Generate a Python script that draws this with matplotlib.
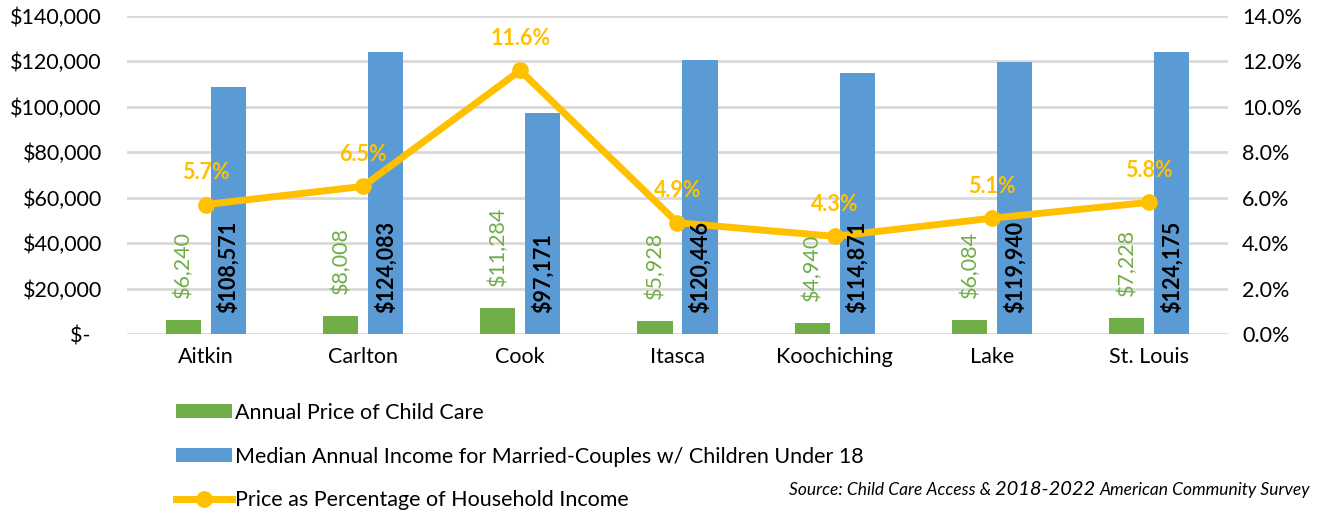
import numpy as np
import matplotlib.pyplot as plt
from matplotlib.ticker import FuncFormatter, MultipleLocator

plt.rcParams['font.family'] = ['Lato', 'DejaVu Sans']

# data
counties = ["Aitkin", "Carlton", "Cook", "Itasca", "Koochiching", "Lake", "St. Louis"]
price = [6240, 8008, 11284, 5928, 4940, 6084, 7228]
income = [108571, 124083, 97171, 120446, 114871, 119940, 124175]
pct = [5.7, 6.5, 11.6, 4.9, 4.3, 5.1, 5.8]

GREEN = "#70AD47"
BLUE = "#5B9BD5"
GOLD = "#FFC000"
GRID = "#D9D9D9"
FS = 15.5

fig = plt.figure(figsize=(13.21, 5.14), dpi=100)
ax = fig.add_axes([0.0961, 0.350, 0.8335, 0.619])
ax2 = ax.twinx()

x = np.arange(len(counties))
w = 0.223
off = 0.143

b1 = ax.bar(x - off, price, w, color=GREEN, zorder=2, label="Annual Price of Child Care")
b2 = ax.bar(x + off, income, w, color=BLUE, zorder=2,
            label="Median Annual Income for Married-Couples w/ Children Under 18")

ax.set_xlim(-0.5, len(counties) - 0.5)
ax.set_ylim(0, 140000)
ax.yaxis.set_major_locator(MultipleLocator(20000))
ax.yaxis.set_major_formatter(FuncFormatter(lambda v, p: "$-  " if v == 0 else f"${v:,.0f}"))
ax.grid(axis="y", color=GRID, linewidth=2, zorder=0)
ax.set_axisbelow(True)
ax.set_xticks(x)
ax.set_xticklabels(counties)
ax.tick_params(axis="both", length=0, labelsize=FS, colors="black")
ax.tick_params(axis="x", pad=9)
ax.tick_params(axis="y", pad=18)
for s in ax.spines.values():
    s.set_visible(False)

ln, = ax2.plot(x, pct, color=GOLD, linewidth=5, marker="o", markersize=11,
               zorder=4, label="Price as Percentage of Household Income")
ax2.set_ylim(0, 14)
ax2.yaxis.set_major_locator(MultipleLocator(2))
ax2.yaxis.set_major_formatter(FuncFormatter(lambda v, p: f"{v:.1f}%"))
ax2.tick_params(axis="y", length=0, labelsize=FS, colors="black", pad=10)
for s in ax2.spines.values():
    s.set_visible(False)

# bar labels go on ax2 so they sit above the line
for xi, v in zip(x, price):
    ax2.annotate(f"${v:,}", (xi - off, v), xycoords=ax.transData, xytext=(0, 22),
                 textcoords="offset pixels", rotation=90, ha="center", va="bottom",
                 color=GREEN, fontsize=FS, zorder=6)
for xi, v in zip(x, income):
    ax2.annotate(f"${v:,}", (xi + off, 0), xycoords=ax.transData, xytext=(0, 21),
                 textcoords="offset pixels", rotation=90, ha="center", va="bottom",
                 color="black", fontsize=FS, fontweight="bold", zorder=6)
for xi, v in zip(x, pct):
    ax2.annotate(f"{v:.1f}%", (xi, v), xytext=(0, 32), textcoords="offset pixels",
                 ha="center", va="center", color=GOLD, fontsize=FS, fontweight="bold")

fig.legend(handles=[b1, b2, ln], loc="upper left", bbox_to_anchor=(0.1265, 0.233),
           frameon=False, fontsize=FS, handlelength=2.6, handleheight=0.6,
           handletextpad=0.15, labelspacing=1.1, borderaxespad=0)

# source note, middle part in a larger size
fig.canvas.draw()
r = fig.canvas.get_renderer()
ys = 0.036
t3 = fig.text(0.992, ys, "American Community Survey", ha="right", va="baseline",
              fontsize=12.5, style="italic")
x3 = t3.get_window_extent(r).x0
t2 = fig.text(x3 / fig.bbox.width, ys, "2018-2022 ", ha="right", va="baseline",
              fontsize=14.5, style="italic")
x2 = t2.get_window_extent(r).x0
fig.text(x2 / fig.bbox.width, ys, "Source: Child Care Access & ", ha="right", va="baseline",
         fontsize=12.5, style="italic")

fig.savefig("out.png", dpi=100)
